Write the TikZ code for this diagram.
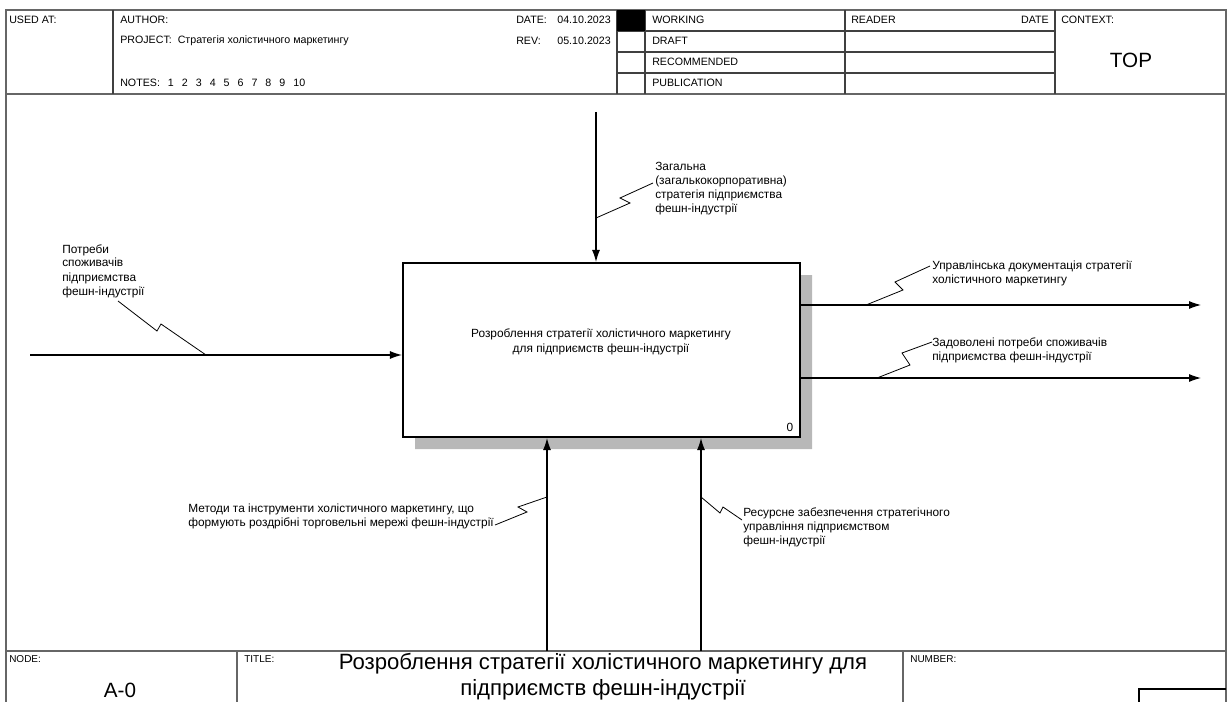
\documentclass[tikz,border=0pt]{standalone}
\usepackage{fontspec}
\setmainfont{Liberation Sans}
\usetikzlibrary{arrows.meta}

\begin{document}
\begin{tikzpicture}[x=0.75pt,y=-0.75pt,
  frame/.style={draw=black!60, line width=0.9pt},
  gridline/.style={draw=black!75, line width=0.8pt},
  hdr/.style={font=\fontsize{8}{10}\selectfont, inner sep=0pt, anchor=west},
  lbl/.style={font=\fontsize{8.9}{10.5}\selectfont, inner sep=0pt, align=left, anchor=base west},
  flow/.style={draw=black, line width=0.8pt, -{Latex[length=9pt,width=6pt]}},
  squig/.style={draw=black, line width=0.6pt},
  funcbox/.style={draw=black, line width=1.6pt, fill=white,
    minimum width=297.75pt, minimum height=130.5pt, inner sep=0pt},
]
\useasboundingbox (0,0) rectangle (1230,702);

% ---------- outer frame ----------
\draw[frame] (6,703) -- (6,10) -- (1226,10) -- (1226,703);
\draw[frame] (6,94) -- (1226,94);
\draw[frame] (6,651) -- (1226,651);

% ---------- header grid ----------
\foreach \xx in {113,617,645,845,1055} \draw[gridline] (\xx,10) -- (\xx,94);
\foreach \yy in {31,52,73} \draw[gridline] (617,\yy) -- (1055,\yy);
\fill[black] (617,10) rectangle (645,31);

% ---------- header texts ----------
\newcommand{\gapn}{\hspace{6pt}}
\node[hdr] (usedat) at (9,20) {USED AT:};
\node[hdr] (author) at (120,20) {AUTHOR:};
\node[hdr] (project) at (120,41) {PROJECT:\ \ Стратегія холістичного маркетингу};
\node[hdr] (notes) at (120,83) {NOTES:\gapn 1\gapn 2\gapn 3\gapn 4\gapn 5\gapn 6\gapn 7\gapn 8\gapn 9\gapn 10};
\node[hdr] (datek) at (516,20) {DATE:};
\node[hdr, anchor=east] (datev) at (611,20) {04.10.2023};
\node[hdr] (revk) at (516,41) {REV:};
\node[hdr, anchor=east] (revv) at (611,41) {05.10.2023};
\node[hdr] (working) at (652,20) {WORKING};
\node[hdr] (draft) at (652,41) {DRAFT};
\node[hdr] (recom) at (652,62) {RECOMMENDED};
\node[hdr] (publ) at (652,83) {PUBLICATION};
\node[hdr] (reader) at (851,20) {READER};
\node[hdr, anchor=east] (rdate) at (1049,20) {DATE};
\node[hdr] (context) at (1061,20) {CONTEXT:};
\node[font=\fontsize{15.5}{18}\selectfont, inner sep=0pt] (top) at (1131,60) {TOP};

% ---------- footer ----------
\draw[frame] (237,651) -- (237,703);
\draw[frame] (903,651) -- (903,703);
\draw[line width=0.8pt] (1139,703) -- (1139,689) -- (1226,689);
\node[hdr, font=\fontsize{7.5}{9}\selectfont] (nodek) at (9,659) {NODE:};
\node[hdr, font=\fontsize{7.5}{9}\selectfont] (titlek) at (244,659) {TITLE:};
\node[hdr, font=\fontsize{7.5}{9}\selectfont] (numk) at (910,659) {NUMBER:};
\node[font=\fontsize{15.5}{18}\selectfont, inner sep=0pt] (nodev) at (120,690) {A-0};
\node[font=\fontsize{16.6}{19.5}\selectfont, inner sep=0pt, align=center] (titlev) at (603,677)
  {Розроблення стратегії холістичного маркетингу для\\підприємств фешн-індустрії};

% ---------- function box ----------
\fill[black!28] (800,275) -- (812,275) -- (812,449) -- (415,449) -- (415,437) -- (800,437) -- cycle;
\node[funcbox] (A0) at (601.5,350) {};
\node[font=\fontsize{8.9}{11.5}\selectfont, inner sep=0pt, align=center] (A0text) at (601,342)
  {Розроблення стратегії холістичного маркетингу\\для підприємств фешн-індустрії};
\node[font=\fontsize{8.9}{10}\selectfont, inner sep=0pt] (A0num) at (790,427) {0};

% ---------- arrows ----------
\coordinate (inS) at (30,355);
\draw[flow] (inS) -- (inS -| A0.west);
\coordinate (ctlS) at (596,112);
\draw[flow] (ctlS) -- (ctlS |- A0.north);
\coordinate (o1E) at (1201,305);
\draw[flow] (o1E -| A0.east) -- (o1E);
\coordinate (o2E) at (1201,378);
\draw[flow] (o2E -| A0.east) -- (o2E);
\coordinate (m1S) at (547,651);
\draw[flow] (m1S) -- (m1S |- A0.south);
\coordinate (m2S) at (701,651);
\draw[flow] (m2S) -- (m2S |- A0.south);

% ---------- labels (anchored at the baseline of the last line) ----------
\node[lbl] (inL) at (62,295) {Потреби\\споживачів\\підприємства\\фешн-індустрії};
\draw[squig] (118,301) -- (157,331) -- (161,324) -- (206,355);

\node[lbl] (ctlL) at (655,213) {Загальна\\(загалькокорпоративна)\\стратегія підприємства\\фешн-індустрії};
\draw[squig] (596,218) -- (630,203) -- (620,198) -- (653,183);

\node[lbl] (o1L) at (932,283) {Управлінська документація стратегії\\холістичного маркетингу};
\draw[squig] (866,305) -- (903,290) -- (895,282) -- (930,266);

\node[lbl] (o2L) at (932,360) {Задоволені потреби споживачів\\підприємства фешн-індустрії};
\draw[squig] (877,378) -- (910,365) -- (902,353) -- (932,342);

\node[lbl] (m1L) at (188,526) {Методи та інструменти холістичного маркетингу, що\\формують роздрібні торговельні мережі фешн-індустрії};
\draw[squig] (547,497) -- (518,507) -- (527,512) -- (495,525);

\node[lbl] (m2L) at (743,544) {Ресурсне забезпечення стратегічного\\управління підприємством\\фешн-індустрії};
\draw[squig] (701,497) -- (720,513) -- (723,507) -- (742,520);

\end{tikzpicture}
\end{document}
